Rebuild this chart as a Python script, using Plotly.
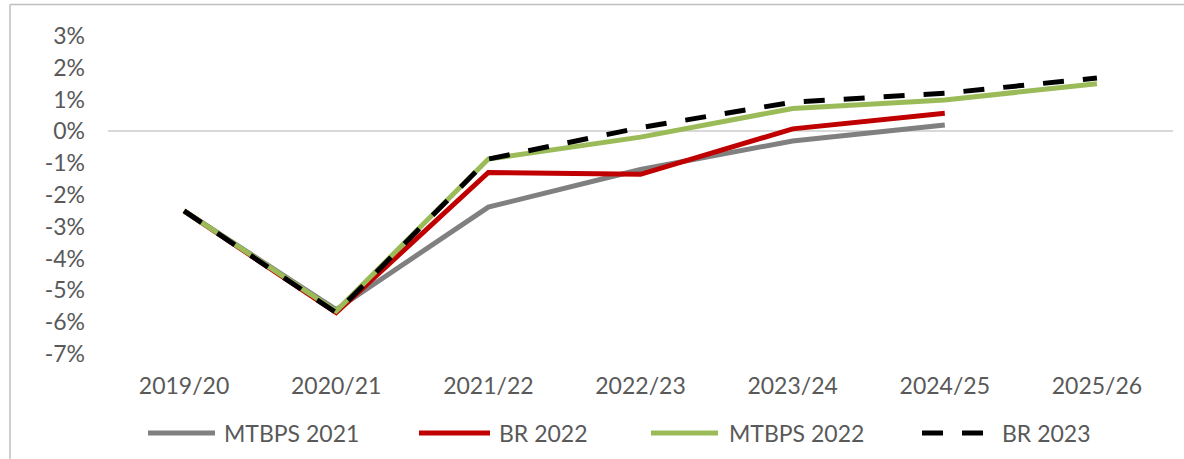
import plotly.graph_objects as go

# Fiscal years on the horizontal axis
years = ["2019/20", "2020/21", "2021/22", "2022/23", "2023/24", "2024/25", "2025/26"]

# Balance as % of GDP for each budget publication
mtbps_2021 = [-2.5, -5.6, -2.38, -1.2, -0.3, 0.2, None]
br_2022 = [-2.5, -5.7, -1.29, -1.35, 0.08, 0.57, None]
mtbps_2022 = [-2.5, -5.65, -0.87, -0.18, 0.72, 0.99, 1.5]
br_2023 = [-2.5, -5.7, -0.87, 0.12, 0.92, 1.2, 1.68]

series_names = ["MTBPS 2021", "BR 2022", "MTBPS 2022", "BR 2023"]
series_values = [mtbps_2021, br_2022, mtbps_2022, br_2023]
series_colors = ["#808080", "#C00000", "#9BBB59", "#000000"]
series_dash = ["solid", "solid", "solid", "21px,19px"]

y_ticks = list(range(-7, 4))
y_tick_text = [f"{v}%" for v in y_ticks]

W, H = 1184, 459
L, R, T, B = 108, 11, 36, 105
PW, PH = W - L - R, H - T - B
TXT = "#595959"
FONT = "Lato"


def px_x(px):
    return (px - L) / PW


def px_y(py):
    return (H - B - py) / PH


fig = go.Figure()
for name, vals, col, dash in zip(series_names, series_values, series_colors, series_dash):
    fig.add_trace(go.Scatter(
        x=years, y=vals, name=name, mode="lines",
        line=dict(color=col, width=5, dash=dash),
        showlegend=False, connectgaps=False,
    ))

shapes = []
annotations = []

# Legend row drawn beneath the axis labels
legend_spec = [(148, 215, 222), (419, 490, 497), (651, 718, 727), (922, 989, 1000)]
leg_y = 433
for (x0, x1, tx), name, col, dash in zip(legend_spec, series_names, series_colors, series_dash):
    shapes.append(dict(
        type="line", xref="paper", yref="paper",
        x0=px_x(x0), x1=px_x(x1), y0=px_y(leg_y), y1=px_y(leg_y),
        line=dict(color=col, width=5, dash=dash),
    ))
    annotations.append(dict(
        xref="paper", yref="paper", x=px_x(tx), y=px_y(leg_y),
        xanchor="left", yanchor="middle", showarrow=False,
        text=name, font=dict(family=FONT, size=23, color=TXT),
    ))

# Outer chart frame (top and left edges)
frame_col = "#BFBFBF"
shapes.append(dict(type="line", xref="paper", yref="paper",
                   x0=px_x(10), x1=px_x(W + 5), y0=px_y(4.5), y1=px_y(4.5),
                   line=dict(color=frame_col, width=1.5)))
shapes.append(dict(type="line", xref="paper", yref="paper",
                   x0=px_x(10), x1=px_x(10), y0=px_y(4.5), y1=px_y(H + 5),
                   line=dict(color=frame_col, width=1.5)))

fig.update_layout(
    width=W, height=H,
    margin=dict(l=L, r=R, t=T, b=B, pad=0),
    paper_bgcolor="white", plot_bgcolor="white",
    font=dict(family=FONT, size=23, color=TXT),
    shapes=shapes, annotations=annotations,
    xaxis=dict(
        type="category", range=[-0.5, 6.5], showgrid=False, showline=False,
        ticks="", tickfont=dict(family=FONT, size=23, color=TXT),
        ticklabelstandoff=16,
    ),
    yaxis=dict(
        range=[-7, 3], tickvals=y_ticks, ticktext=y_tick_text,
        showgrid=False, showline=False, ticks="",
        zeroline=True, zerolinecolor="#D9D9D9", zerolinewidth=1.5,
        tickfont=dict(family=FONT, size=23, color=TXT),
        ticklabelstandoff=22,
    ),
)

fig.write_html("out.html")
